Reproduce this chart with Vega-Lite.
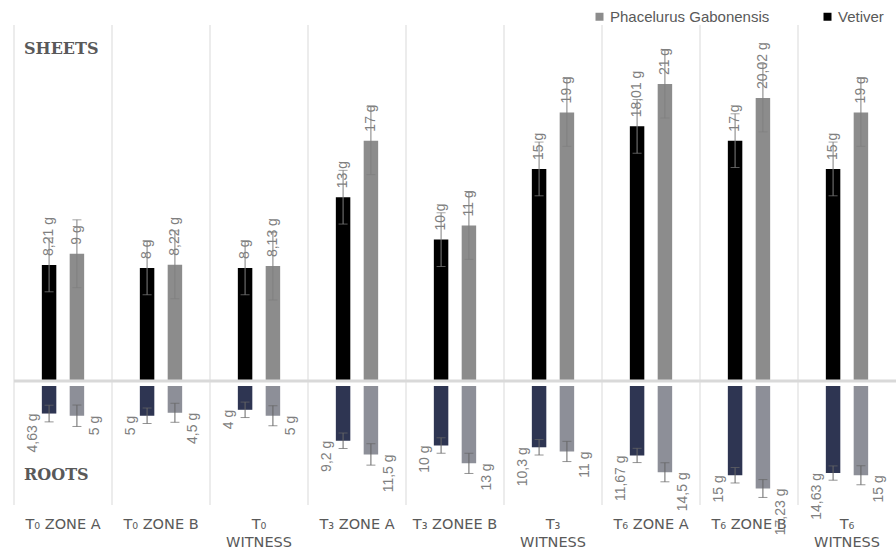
{
  "$schema": "https://vega.github.io/schema/vega-lite/v6.json",
  "width": 882,
  "height": 480,
  "autosize": {"type": "none"},
  "padding": {"left": 14, "top": 25, "right": 0, "bottom": 46},
  "background": "white",
  "config": {
    "view": {"stroke": null},
    "font": "Liberation Sans",
    "locale": {"number": {"decimal": ",", "thousands": ".", "grouping": [3], "currency": ["", " g"]}}
  },
  "data": {"values": [
    {"cat": "T₀ ZONE A", "species": "Vetiver", "part": "Sheets", "value": 8.21, "err": 1.9},
    {"cat": "T₀ ZONE B", "species": "Vetiver", "part": "Sheets", "value": 8, "err": 1.9},
    {"cat": "T₀ WITNESS", "species": "Vetiver", "part": "Sheets", "value": 8, "err": 1.9},
    {"cat": "T₃ ZONE A", "species": "Vetiver", "part": "Sheets", "value": 13, "err": 1.9},
    {"cat": "T₃ ZONEE B", "species": "Vetiver", "part": "Sheets", "value": 10, "err": 1.9},
    {"cat": "T₃ WITNESS", "species": "Vetiver", "part": "Sheets", "value": 15, "err": 1.9},
    {"cat": "T₆ ZONE A", "species": "Vetiver", "part": "Sheets", "value": 18.01, "err": 1.9},
    {"cat": "T₆ ZONE B", "species": "Vetiver", "part": "Sheets", "value": 17, "err": 1.9},
    {"cat": "T₆ WITNESS", "species": "Vetiver", "part": "Sheets", "value": 15, "err": 1.9},
    {"cat": "T₀ ZONE A", "species": "Phacelurus Gabonensis", "part": "Sheets", "value": 9, "err": 2.4},
    {"cat": "T₀ ZONE B", "species": "Phacelurus Gabonensis", "part": "Sheets", "value": 8.22, "err": 2.4},
    {"cat": "T₀ WITNESS", "species": "Phacelurus Gabonensis", "part": "Sheets", "value": 8.13, "err": 2.4},
    {"cat": "T₃ ZONE A", "species": "Phacelurus Gabonensis", "part": "Sheets", "value": 17, "err": 2.4},
    {"cat": "T₃ ZONEE B", "species": "Phacelurus Gabonensis", "part": "Sheets", "value": 11, "err": 2.4},
    {"cat": "T₃ WITNESS", "species": "Phacelurus Gabonensis", "part": "Sheets", "value": 19, "err": 2.4},
    {"cat": "T₆ ZONE A", "species": "Phacelurus Gabonensis", "part": "Sheets", "value": 21, "err": 2.4},
    {"cat": "T₆ ZONE B", "species": "Phacelurus Gabonensis", "part": "Sheets", "value": 20.02, "err": 2.4},
    {"cat": "T₆ WITNESS", "species": "Phacelurus Gabonensis", "part": "Sheets", "value": 19, "err": 2.4},
    {"cat": "T₀ ZONE A", "species": "Vetiver", "part": "Roots", "value": 4.63, "err": 1.4},
    {"cat": "T₀ ZONE B", "species": "Vetiver", "part": "Roots", "value": 5, "err": 1.3},
    {"cat": "T₀ WITNESS", "species": "Vetiver", "part": "Roots", "value": 4, "err": 1.3},
    {"cat": "T₃ ZONE A", "species": "Vetiver", "part": "Roots", "value": 9.2, "err": 1.3},
    {"cat": "T₃ ZONEE B", "species": "Vetiver", "part": "Roots", "value": 10, "err": 1.3},
    {"cat": "T₃ WITNESS", "species": "Vetiver", "part": "Roots", "value": 10.3, "err": 1.3},
    {"cat": "T₆ ZONE A", "species": "Vetiver", "part": "Roots", "value": 11.67, "err": 1.2},
    {"cat": "T₆ ZONE B", "species": "Vetiver", "part": "Roots", "value": 15, "err": 1.3},
    {"cat": "T₆ WITNESS", "species": "Vetiver", "part": "Roots", "value": 14.63, "err": 1.2},
    {"cat": "T₀ ZONE A", "species": "Phacelurus Gabonensis", "part": "Roots", "value": 5, "err": 1.8},
    {"cat": "T₀ ZONE B", "species": "Phacelurus Gabonensis", "part": "Roots", "value": 4.5, "err": 1.6},
    {"cat": "T₀ WITNESS", "species": "Phacelurus Gabonensis", "part": "Roots", "value": 5, "err": 1.7},
    {"cat": "T₃ ZONE A", "species": "Phacelurus Gabonensis", "part": "Roots", "value": 11.5, "err": 1.8},
    {"cat": "T₃ ZONEE B", "species": "Phacelurus Gabonensis", "part": "Roots", "value": 13, "err": 1.7},
    {"cat": "T₃ WITNESS", "species": "Phacelurus Gabonensis", "part": "Roots", "value": 11, "err": 1.7},
    {"cat": "T₆ ZONE A", "species": "Phacelurus Gabonensis", "part": "Roots", "value": 14.5, "err": 1.6},
    {"cat": "T₆ ZONE B", "species": "Phacelurus Gabonensis", "part": "Roots", "value": 17.23, "err": 1.5},
    {"cat": "T₆ WITNESS", "species": "Phacelurus Gabonensis", "part": "Roots", "value": 15, "err": 1.6}
  ]},
  "layer": [
    {
      "layer": [
        {
          "transform": [{"filter": "datum.part === 'Sheets' && datum.species === 'Vetiver'"}],
          "mark": {"type": "rule", "color": "#d9d9d9", "strokeWidth": 1},
          "encoding": {
            "x": {"field": "cat", "type": "nominal", "bandPosition": 0,
              "sort": ["T₀ ZONE A", "T₀ ZONE B", "T₀ WITNESS", "T₃ ZONE A", "T₃ ZONEE B", "T₃ WITNESS", "T₆ ZONE A", "T₆ ZONE B", "T₆ WITNESS"],
              "scale": {"paddingInner": 0, "paddingOuter": 0},
              "axis": {"title": null, "domain": false, "ticks": false, "grid": false, "labelAngle": 0, "labelPadding": 12,
                "labelFont": "DejaVu Sans", "labelFontSize": 14.5, "labelColor": "#595959", "labelLineHeight": 18,
                "labelExpr": "indexof(datum.label,'WITNESS')>=0 ? split(datum.label,' ') : datum.label"}}
          }
        },
        {
          "transform": [{"filter": "datum.part === 'Sheets'"}],
          "mark": {"type": "bar"},
          "encoding": {
            "x": {"field": "cat", "type": "nominal", "sort": ["T₀ ZONE A", "T₀ ZONE B", "T₀ WITNESS", "T₃ ZONE A", "T₃ ZONEE B", "T₃ WITNESS", "T₆ ZONE A", "T₆ ZONE B", "T₆ WITNESS"]},
            "xOffset": {"field": "species", "type": "nominal", "sort": ["Vetiver", "Phacelurus Gabonensis"], "scale": {"paddingInner": 0.48, "paddingOuter": 1.2}},
            "y": {"field": "value", "type": "quantitative", "scale": {"domain": [-8.77, 25.18], "nice": false, "zero": false}, "axis": null},
            "color": {"field": "species", "type": "nominal",
              "scale": {"domain": ["Phacelurus Gabonensis", "Vetiver"], "range": ["#8c8c8c", "#000000"]},
              "legend": {"orient": "none", "legendX": 578, "legendY": -16, "direction": "horizontal", "title": null,
                "symbolType": "square", "symbolSize": 64, "symbolStrokeWidth": 0, "labelFontSize": 15, "labelFont": "Liberation Sans",
                "labelColor": "#595959", "columnPadding": 50, "labelOffset": 3, "padding": 0}}
          }
        },
        {
          "transform": [{"filter": "datum.part === 'Sheets'"}],
          "mark": {"type": "errorbar", "color": "#7f7f7f", "thickness": 1, "ticks": {"size": 9}},
          "encoding": {
            "x": {"field": "cat", "type": "nominal", "sort": ["T₀ ZONE A", "T₀ ZONE B", "T₀ WITNESS", "T₃ ZONE A", "T₃ ZONEE B", "T₃ WITNESS", "T₆ ZONE A", "T₆ ZONE B", "T₆ WITNESS"]},
            "xOffset": {"field": "species", "type": "nominal", "sort": ["Vetiver", "Phacelurus Gabonensis"]},
            "y": {"field": "value", "type": "quantitative", "scale": {"domain": [-8.77, 25.18], "nice": false, "zero": false}, "axis": null},
            "yError": {"field": "err"}
          }
        },
        {
          "transform": [{"filter": "datum.part === 'Sheets'"}],
          "mark": {"type": "text", "angle": 270, "align": "left", "baseline": "middle", "dx": 9, "fontSize": 14, "color": "#7f7f7f"},
          "encoding": {
            "x": {"field": "cat", "type": "nominal", "sort": ["T₀ ZONE A", "T₀ ZONE B", "T₀ WITNESS", "T₃ ZONE A", "T₃ ZONEE B", "T₃ WITNESS", "T₆ ZONE A", "T₆ ZONE B", "T₆ WITNESS"]},
            "xOffset": {"field": "species", "type": "nominal", "sort": ["Vetiver", "Phacelurus Gabonensis"]},
            "y": {"field": "value", "type": "quantitative", "scale": {"domain": [-8.77, 25.18], "nice": false, "zero": false}, "axis": null},
            "text": {"field": "value", "type": "quantitative", "format": "$.2~f"}
          }
        },
        {
          "data": {"values": [{"t": "SHEETS"}]},
          "mark": {"type": "text", "align": "left", "baseline": "middle", "dx": 10, "font": "DejaVu Serif", "fontWeight": "bold", "fontSize": 16, "color": "#595959"},
          "encoding": {
            "x": {"datum": "T₀ ZONE A", "bandPosition": 0},
            "y": {"datum": 23.48},
            "text": {"field": "t"}
          }
        },
        {
          "data": {"values": [{}]},
          "mark": {"type": "rule", "color": "#d9d9d9", "strokeWidth": 3},
          "encoding": {"y": {"datum": 0}}
        }
      ]
    },
    {
      "layer": [
        {
          "transform": [{"filter": "datum.part === 'Roots'"}],
          "mark": {"type": "bar"},
          "encoding": {
            "x": {"field": "cat", "type": "nominal", "sort": ["T₀ ZONE A", "T₀ ZONE B", "T₀ WITNESS", "T₃ ZONE A", "T₃ ZONEE B", "T₃ WITNESS", "T₆ ZONE A", "T₆ ZONE B", "T₆ WITNESS"]},
            "xOffset": {"field": "species", "type": "nominal", "sort": ["Vetiver", "Phacelurus Gabonensis"]},
            "y": {"field": "value", "type": "quantitative", "scale": {"domain": [-60.67, 20], "nice": false, "zero": false, "reverse": true}, "axis": null},
            "color": {"field": "species", "type": "nominal",
              "scale": {"domain": ["Phacelurus Gabonensis", "Vetiver"], "range": ["#8d8f98", "#2e3552"]}, "legend": null}
          }
        },
        {
          "transform": [{"filter": "datum.part === 'Roots'"}],
          "mark": {"type": "errorbar", "color": "#666666", "thickness": 1, "ticks": {"size": 9}},
          "encoding": {
            "x": {"field": "cat", "type": "nominal", "sort": ["T₀ ZONE A", "T₀ ZONE B", "T₀ WITNESS", "T₃ ZONE A", "T₃ ZONEE B", "T₃ WITNESS", "T₆ ZONE A", "T₆ ZONE B", "T₆ WITNESS"]},
            "xOffset": {"field": "species", "type": "nominal", "sort": ["Vetiver", "Phacelurus Gabonensis"]},
            "y": {"field": "value", "type": "quantitative", "scale": {"domain": [-60.67, 20], "nice": false, "zero": false, "reverse": true}, "axis": null},
            "yError": {"field": "err"}
          }
        },
        {
          "transform": [{"filter": "datum.part === 'Roots' && datum.species === 'Vetiver'"}],
          "mark": {"type": "text", "angle": 270, "align": "right", "baseline": "middle", "dx": 0, "dy": -16, "fontSize": 14, "color": "#7f7f7f"},
          "encoding": {
            "x": {"field": "cat", "type": "nominal", "sort": ["T₀ ZONE A", "T₀ ZONE B", "T₀ WITNESS", "T₃ ZONE A", "T₃ ZONEE B", "T₃ WITNESS", "T₆ ZONE A", "T₆ ZONE B", "T₆ WITNESS"]},
            "xOffset": {"field": "species", "type": "nominal", "sort": ["Vetiver", "Phacelurus Gabonensis"]},
            "y": {"field": "value", "type": "quantitative", "scale": {"domain": [-60.67, 20], "nice": false, "zero": false, "reverse": true}, "axis": null},
            "text": {"field": "value", "type": "quantitative", "format": "$.2~f"}
          }
        },
        {
          "transform": [{"filter": "datum.part === 'Roots' && datum.species !== 'Vetiver'"}],
          "mark": {"type": "text", "angle": 270, "align": "right", "baseline": "middle", "dx": 0, "dy": 18, "fontSize": 14, "color": "#7f7f7f"},
          "encoding": {
            "x": {"field": "cat", "type": "nominal", "sort": ["T₀ ZONE A", "T₀ ZONE B", "T₀ WITNESS", "T₃ ZONE A", "T₃ ZONEE B", "T₃ WITNESS", "T₆ ZONE A", "T₆ ZONE B", "T₆ WITNESS"]},
            "xOffset": {"field": "species", "type": "nominal", "sort": ["Vetiver", "Phacelurus Gabonensis"]},
            "y": {"field": "value", "type": "quantitative", "scale": {"domain": [-60.67, 20], "nice": false, "zero": false, "reverse": true}, "axis": null},
            "text": {"field": "value", "type": "quantitative", "format": "$.2~f"}
          }
        },
        {
          "data": {"values": [{"t": "ROOTS"}]},
          "mark": {"type": "text", "align": "left", "baseline": "middle", "dx": 10, "font": "DejaVu Serif", "fontWeight": "bold", "fontSize": 16, "color": "#595959"},
          "encoding": {
            "x": {"datum": "T₀ ZONE A", "bandPosition": 0},
            "y": {"datum": 14.96},
            "text": {"field": "t"}
          }
        }
      ]
    }
  ],
  "resolve": {"scale": {"y": "independent", "color": "independent"}}
}
